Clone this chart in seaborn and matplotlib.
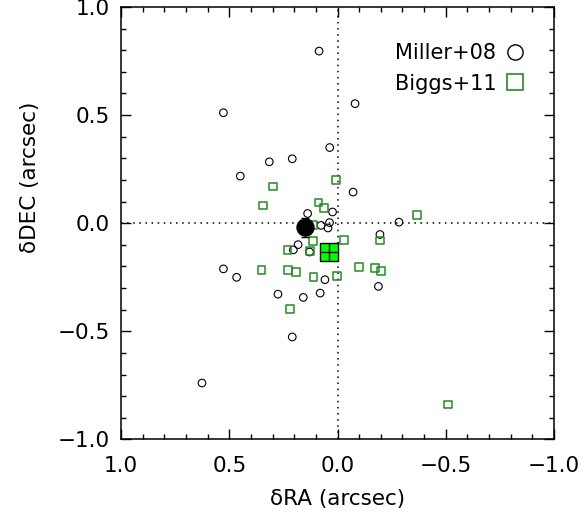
import numpy as np
import pandas as pd
import seaborn as sns
import matplotlib.pyplot as plt
from matplotlib.lines import Line2D
from matplotlib.ticker import MultipleLocator

# Miller+08 offsets (arcsec)
miller_ra = [0.085, 0.527, -0.081, 0.036, 0.315, 0.209, 0.449, -0.072, 0.138,
             0.023, 0.076, 0.037, 0.044, -0.284, -0.196, -0.189, 0.182, 0.204,
             0.129, 0.527, 0.466, 0.058, 0.275, 0.080, 0.158, 0.209, 0.626]
miller_dec = [0.796, 0.511, 0.553, 0.350, 0.284, 0.298, 0.218, 0.144, 0.045,
              0.052, -0.010, 0.003, -0.022, 0.005, -0.052, -0.292, -0.099, -0.123,
              -0.133, -0.211, -0.250, -0.261, -0.328, -0.323, -0.343, -0.526, -0.739]

# Biggs+11 offsets (arcsec)
biggs_ra = [0.007, 0.298, 0.343, 0.088, 0.064, 0.111, -0.366, 0.113, -0.031,
            -0.197, 0.231, 0.126, 0.351, 0.229, 0.192, 0.111, 0.004, -0.101,
            -0.173, -0.200, 0.218, -0.510]
biggs_dec = [0.200, 0.170, 0.082, 0.096, 0.069, -0.008, 0.039, -0.082, -0.078,
             -0.080, -0.125, -0.130, -0.216, -0.218, -0.226, -0.248, -0.243, -0.201,
             -0.208, -0.219, -0.397, -0.838]

# mean offsets
mean_miller = (0.149, -0.018)
mean_miller_err = (0.0, 0.044)
mean_biggs = (0.039, -0.131)
mean_biggs_err = (0.038, 0.038)

df_m = pd.DataFrame({'dRA': miller_ra, 'dDEC': miller_dec})
df_b = pd.DataFrame({'dRA': biggs_ra, 'dDEC': biggs_dec})

plt.rcParams['font.family'] = ['DejaVu Sans']
fig = plt.figure(figsize=(5.86, 5.13), dpi=100)
ax = fig.add_axes([0.2065, 0.1433, 0.7389, 0.8431])

green = '#228b22'

ax.axvline(0, color='k', ls=(0, (1, 3)), lw=1.1, zorder=1)
ax.axhline(0, color='k', ls=(0, (1, 3)), lw=1.1, zorder=1)

sns.scatterplot(data=df_m, x='dRA', y='dDEC', marker='o', s=30,
                facecolors='none', edgecolors='black', linewidth=0.8, ax=ax, zorder=3)
sns.scatterplot(data=df_b, x='dRA', y='dDEC', marker='s', s=32,
                facecolors='none', edgecolors=green, linewidth=1.1, ax=ax, zorder=3)

ax.errorbar([mean_miller[0]], [mean_miller[1]], yerr=[mean_miller_err[1]],
            fmt='none', ecolor='k', elinewidth=1, capsize=3, zorder=4)
sns.scatterplot(x=[mean_miller[0]], y=[mean_miller[1]], marker='o', s=150,
                color='black', edgecolor='black', ax=ax, zorder=5)
sns.scatterplot(x=[mean_biggs[0]], y=[mean_biggs[1]], marker='s', s=150,
                color='#00ff00', edgecolor='black', linewidth=1, ax=ax, zorder=5)
ax.errorbar([mean_biggs[0]], [mean_biggs[1]], xerr=[mean_biggs_err[0]],
            yerr=[mean_biggs_err[1]], fmt='none', ecolor='k', elinewidth=1,
            capsize=0, zorder=6)

ax.set_xlim(1.0, -1.0)
ax.set_ylim(-1.0, 1.0)
ax.xaxis.set_major_locator(MultipleLocator(0.5))
ax.yaxis.set_major_locator(MultipleLocator(0.5))
ax.xaxis.set_minor_locator(MultipleLocator(0.1))
ax.yaxis.set_minor_locator(MultipleLocator(0.1))
ax.tick_params(which='both', direction='in', top=True, right=True, width=1)
ax.tick_params(which='major', length=7)
ax.tick_params(which='minor', length=3.6)
ax.tick_params(axis='x', which='major', pad=12, labelsize=15.5)
ax.tick_params(axis='y', which='major', pad=8, labelsize=15.5)
ax.xaxis.set_major_formatter(plt.FuncFormatter(lambda v, p: f"{v:.1f}".replace('-', '\u2212')))
ax.yaxis.set_major_formatter(plt.FuncFormatter(lambda v, p: f"{v:.1f}".replace('-', '\u2212')))
for s in ax.spines.values():
    s.set_linewidth(1.1)

ax.set_xlabel('\u03b4RA (arcsec)', fontsize=15.5)
ax.set_ylabel('\u03b4DEC (arcsec)', fontsize=15.5)
ax.xaxis.set_label_coords(0.5, -0.115)
ax.yaxis.set_label_coords(-0.188, 0.607)

handles = [Line2D([], [], ls='none', marker='o', ms=11, mfc='none', mec='black', mew=1),
           Line2D([], [], ls='none', marker='s', ms=11, mfc='none', mec=green, mew=1.2)]
ax.legend(handles, ['Miller+08', 'Biggs+11'], loc='upper right',
          bbox_to_anchor=(0.953, 0.94), markerfirst=False, frameon=False,
          fontsize=15, handlelength=0.8, handletextpad=0.5, labelspacing=0.5,
          borderpad=0)

fig.savefig('out.png', dpi=100)
